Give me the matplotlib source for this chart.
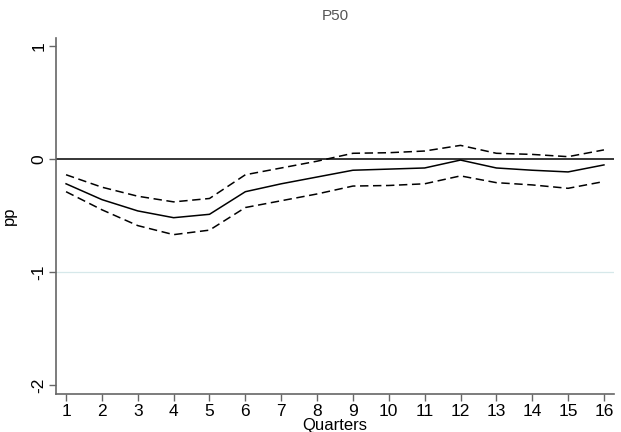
import matplotlib
matplotlib.use("Agg")
import matplotlib.pyplot as plt

quarters = list(range(1, 17))
point = [-0.22, -0.36, -0.46, -0.52, -0.49, -0.29, -0.22, -0.16,
         -0.10, -0.09, -0.08, -0.01, -0.08, -0.10, -0.115, -0.053]
upper = [-0.14, -0.25, -0.33, -0.38, -0.35, -0.14, -0.08, -0.02,
         0.05, 0.055, 0.07, 0.12, 0.05, 0.04, 0.02, 0.08]
lower = [-0.29, -0.45, -0.59, -0.67, -0.63, -0.43, -0.37, -0.31,
         -0.24, -0.235, -0.22, -0.15, -0.21, -0.23, -0.26, -0.20]
yticks = [-2, -1, 0, 1]

plt.rcParams['font.family'] = ['Liberation Sans', 'DejaVu Sans']

fig = plt.figure(figsize=(6.21, 4.32), dpi=100)
ax = fig.add_axes([0.0902, 0.088, 0.8985, 0.824])

ax.axhline(-1, color='#d6e8ea', linewidth=0.9, zorder=1)
ax.axhline(0, color='black', linewidth=1.1, zorder=2)
ax.plot(quarters, point, color='black', linewidth=1.1, zorder=3)
ax.plot(quarters, upper, color='black', linewidth=1.1, linestyle=(0, (5.5, 3)), zorder=3)
ax.plot(quarters, lower, color='black', linewidth=1.1, linestyle=(0, (5.5, 3)), zorder=3)

ax.set_xlim(0.72, 16.28)
ax.set_ylim(-2.08, 1.07)
ax.set_xticks(quarters)
ax.set_yticks(yticks)
ax.set_yticklabels([str(v) for v in yticks], rotation=90, va='center')

for side in ['top', 'right']:
    ax.spines[side].set_visible(False)
for side in ['left', 'bottom']:
    ax.spines[side].set_color('#666666')
    ax.spines[side].set_linewidth(1.2)
ax.tick_params(axis='both', color='#666666', width=1.0, length=5, labelsize=12.5, pad=2)

ax.set_xlabel('Quarters', fontsize=12, labelpad=-0.5)
ax.set_ylabel('pp', fontsize=12, labelpad=10)
ax.set_title('P50', fontsize=11, color='#555555', pad=13)

fig.savefig('out.png', dpi=100)
